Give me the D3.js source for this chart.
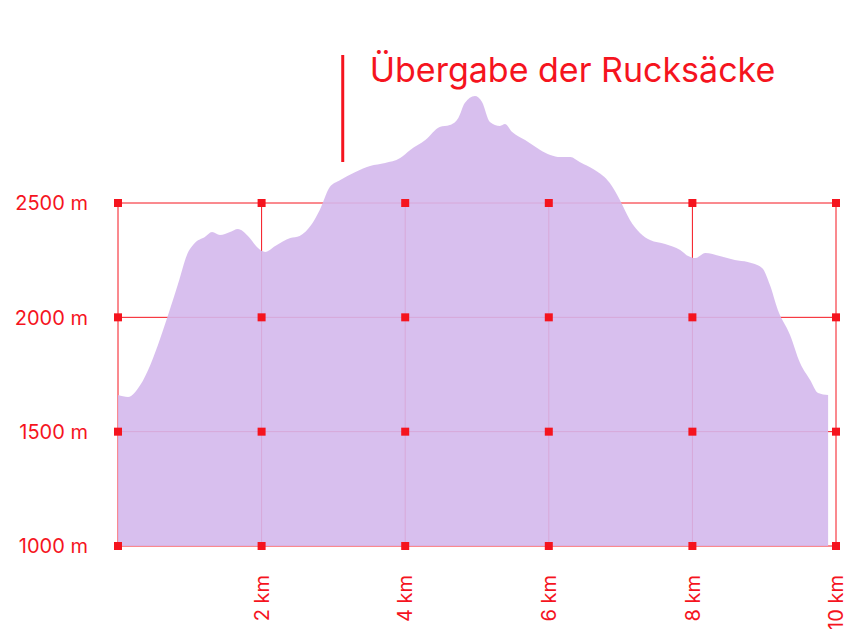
<!DOCTYPE html>
<html><head><meta charset="utf-8">
<script src="https://cdn.jsdelivr.net/npm/d3@7"></script>
<style>body{margin:0;background:#fff}text{font-family:Inter,"Liberation Sans",sans-serif}</style>
</head><body><svg id="c" width="855" height="638"></svg>
<script>
const km=[0,0.14,0.31,0.45,0.59,0.72,0.84,0.96,1.07,1.21,1.31,1.42,1.56,1.67,1.81,1.95,2.05,2.19,2.40,2.53,2.70,2.81,2.95,3.09,3.30,3.51,3.72,3.93,4.07,4.28,4.48,4.62,4.74,4.83,4.97,5.07,5.18,5.32,5.39,5.49,5.67,5.88,6.02,6.16,6.30,6.43,6.64,6.85,6.99,7.13,7.27,7.41,7.62,7.83,7.94,8.04,8.18,8.38,8.59,8.77,8.97,9.08,9.19,9.36,9.50,9.64,9.75,9.89];
const elev=[1660,1652,1704,1792,1910,2032,2150,2273,2325,2351,2373,2360,2373,2386,2356,2303,2286,2312,2347,2356,2408,2469,2570,2600,2635,2662,2675,2697,2732,2775,2832,2841,2872,2937,2968,2942,2854,2837,2845,2810,2775,2732,2710,2701,2701,2679,2644,2587,2513,2426,2369,2338,2321,2294,2268,2259,2281,2268,2251,2242,2216,2141,2032,1923,1800,1726,1669,1660];
const xTicks=[0,2,4,6,8,10];
const xTickLabels=["","2 km","4 km","6 km","8 km","10 km"];
const yTicks=[1000,1500,2000,2500];
const yTickLabels=["1000 m","1500 m","2000 m","2500 m"];
const annotationKm=3.13, annotationText="Übergabe der Rucksäcke";

const red="#f5141e";
const svg=d3.select("#c");
const x=d3.scaleLinear().domain([0,10]).range([118,836]);
const y=d3.scaleLinear().domain([1000,2500]).range([546,203]);
const data=km.map((k,i)=>({k,e:elev[i]}));

// grid
svg.append("g").selectAll("line").data(yTicks).join("line")
 .attr("x1",x(0)).attr("x2",x(10)).attr("y1",d=>y(d)).attr("y2",d=>y(d))
 .attr("stroke",red).attr("stroke-width",1);
svg.append("g").selectAll("line").data(xTicks).join("line")
 .attr("x1",d=>x(d)).attr("x2",d=>x(d)).attr("y1",y(1000)).attr("y2",y(2500))
 .attr("stroke",red).attr("stroke-width",1);

// area
svg.append("path").datum(data)
 .attr("d",d3.area().x(d=>x(d.k)).y0(y(1000)).y1(d=>y(d.e)).curve(d3.curveMonotoneX))
 .attr("fill","#d4b8ec").attr("fill-opacity",0.9);

// squares
const pts=[];xTicks.forEach(a=>yTicks.forEach(b=>pts.push([a,b])));
svg.append("g").selectAll("rect").data(pts).join("rect")
 .attr("x",d=>x(d[0])-4).attr("y",d=>y(d[1])-4).attr("width",8).attr("height",8).attr("fill",red);

// y labels
svg.append("g").selectAll("text").data(yTicks).join("text")
 .attr("x",88).attr("y",d=>y(d)).attr("dy","0.36em").attr("text-anchor","end")
 .attr("fill",red).attr("font-size",20).text((d,i)=>yTickLabels[i]);
// x labels
svg.append("g").selectAll("text").data(xTicks).join("text")
 .attr("transform",d=>`translate(${x(d)},575) rotate(-90)`).attr("dy","0.36em").attr("text-anchor","end")
 .attr("fill",red).attr("font-size",20).text((d,i)=>xTickLabels[i]);

// annotation
svg.append("line").attr("x1",x(annotationKm)).attr("x2",x(annotationKm)).attr("y1",55).attr("y2",162)
 .attr("stroke",red).attr("stroke-width",3);
svg.append("text").attr("x",x(annotationKm)+27).attr("y",82).attr("fill",red)
 .attr("font-size",34).text(annotationText);
</script></body></html>
